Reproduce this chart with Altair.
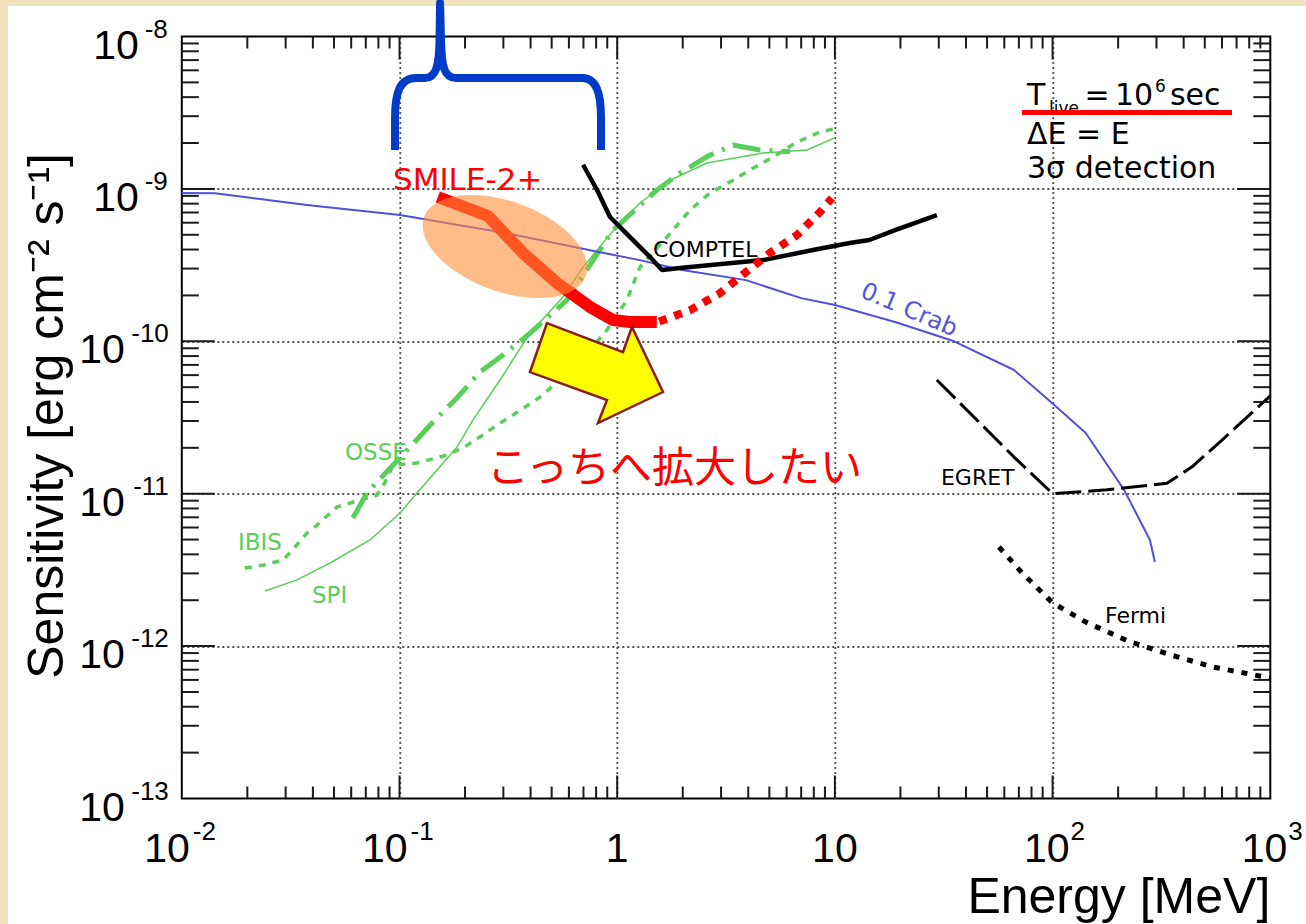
import altair as alt
import pandas as pd

# ---------------- data (Energy [MeV], Sensitivity [erg cm^-2 s^-1]) ----------------
crab_E = [0.01, 0.0142, 0.0376, 0.1005, 0.305, 0.742, 1.27, 1.99, 3.9, 7.0, 10.0, 18.9,
          35.3, 66.5, 99.4, 142, 213, 280, 295]
crab_S = [9.4e-10, 9.35e-10, 7.84e-10, 6.74e-10, 5.14e-10, 3.97e-10, 3.41e-10, 2.94e-10,
          2.52e-10, 1.92e-10, 1.73e-10, 1.34e-10, 1.0e-10, 6.48e-11, 3.94e-11, 2.50e-11,
          1.06e-11, 4.97e-12, 3.56e-12]

smile_E = [0.150, 0.255, 0.369, 0.529, 0.750, 0.956, 1.145, 1.52]
smile_S = [8.85e-10, 6.64e-10, 3.80e-10, 2.41e-10, 1.68e-10, 1.38e-10, 1.34e-10, 1.34e-10]
smile_ext_E = [1.56, 2.16, 2.97, 3.86, 5.03, 6.70, 8.54, 9.70]
smile_ext_S = [1.35e-10, 1.60e-10, 2.07e-10, 2.81e-10, 3.80e-10, 4.98e-10, 7.05e-10, 8.71e-10]

comptel_E = [0.697, 0.808, 0.927, 1.145, 1.415, 1.606, 1.94, 4.68, 7.93, 11.7, 14.4, 18.9, 29.4]
comptel_S = [1.44e-9, 9.84e-10, 6.54e-10, 4.83e-10, 3.57e-10, 2.94e-10, 3.03e-10, 3.41e-10,
             3.97e-10, 4.42e-10, 4.62e-10, 5.37e-10, 6.74e-10]

egret_E = [29.4, 66.5, 100, 178, 335, 437, 600, 1000]
egret_S = [5.57e-11, 1.74e-11, 1.0e-11, 1.06e-11, 1.17e-11, 1.50e-11, 2.25e-11, 4.38e-11]

fermi_E = [56.7, 72.4, 100, 142, 222, 350, 546, 1000]
fermi_S = [4.47e-12, 3.02e-12, 1.92e-12, 1.44e-12, 1.08e-12, 8.74e-13, 7.29e-13, 6.17e-13]

spi_E = [0.0241, 0.0338, 0.0480, 0.0732, 0.1005, 0.1203, 0.1487, 0.1836, 0.2176, 0.2894,
         0.3976, 0.5636, 0.697, 0.956, 1.272, 1.748, 2.585, 4.68, 7.44, 10.0]
spi_S = [2.30e-12, 2.72e-12, 3.51e-12, 4.97e-12, 7.47e-12, 1.01e-11, 1.43e-11, 2.02e-11,
         3.05e-11, 5.57e-11, 1.13e-10, 1.95e-10, 3.07e-10, 5.29e-10, 8.08e-10, 1.14e-9,
         1.48e-9, 1.72e-9, 1.80e-9, 2.16e-9]

ibis_E = [0.0195, 0.0236, 0.0292, 0.0331, 0.0376, 0.0418, 0.0516, 0.0659, 0.0788, 0.0858,
          0.0934, 0.120, 0.165, 0.196, 0.242, 0.280, 0.332, 0.442, 0.564, 0.750, 0.898,
          1.109, 1.272, 1.693, 2.16, 2.67, 3.40, 4.07, 5.20, 6.70, 8.54, 9.80]
ibis_S = [3.25e-12, 3.40e-12, 3.67e-12, 4.47e-12, 5.52e-12, 6.23e-12, 8.18e-12, 9.09e-12,
          9.80e-12, 1.19e-11, 1.54e-11, 1.59e-11, 1.79e-11, 2.00e-11, 2.43e-11, 2.82e-11,
          3.28e-11, 4.31e-11, 5.83e-11, 8.77e-11, 1.19e-10, 1.87e-10, 3.07e-10, 4.83e-10,
          7.27e-10, 9.40e-10, 1.14e-9, 1.33e-9, 1.62e-9, 2.03e-9, 2.36e-9, 2.47e-9]

osse_E = [0.0611, 0.0709, 0.0904, 0.1117, 0.1456, 0.1836, 0.2344, 0.2988, 0.3976, 0.588,
          0.956, 1.523, 1.943, 2.61, 3.40, 4.53, 6.22]
osse_S = [6.93e-12, 1.01e-11, 1.47e-11, 2.02e-11, 3.05e-11, 4.25e-11, 6.29e-11, 8.13e-11,
          1.13e-10, 1.87e-10, 5.37e-10, 9.84e-10, 1.27e-9, 1.64e-9, 1.94e-9, 1.80e-9, 1.75e-9]

# tick labels
x_neg_ticks = [0.01, 0.1]
x_neg_exp = ["-2", "-1"]
x_pos_ticks = [100, 1000]
x_pos_exp = ["2", "3"]
x_plain_ticks = [1, 10]
x_plain_text = ["1", "10"]
y1_ticks = [1e-8, 1e-9]
y1_exp = ["-8", "-9"]
y2_ticks = [1e-10, 1e-11, 1e-12, 1e-13]
y2_exp = ["-10", "-11", "-12", "-13"]
x_major = [0.1, 1, 10, 100]
y_major = [1e-12, 1e-11, 1e-10, 1e-9]
x_minor = [k * 10.0 ** e for e in range(-2, 3) for k in range(2, 10)]
y_minor = [k * 10.0 ** e for e in range(-13, -8) for k in range(2, 10)]

# annotation anchors (data coordinates)
ell_pos = (0.305, 4.19e-10)
arrow_pos = (0.799, 6.19e-11)
brace_pos = (0.2835, 5.34e-9)
underline = (72.4, 667, 3.17e-9)

W, H = 1088.5, 762
PAD = {"left": 181.8, "top": 36.5, "right": 35.7, "bottom": 125.5}

xs = alt.Scale(type="log", domain=[0.01, 1000], nice=False)
ys = alt.Scale(type="log", domain=[1e-13, 1e-8], nice=False)
GRID = dict(grid=True, labels=False, ticks=False, domain=False, title=None,
            gridColor="#505050", gridDash=[2, 3], gridWidth=1.8, gridOpacity=1)
xax = alt.Axis(values=x_major, **GRID)
yax = alt.Axis(values=y_major, **GRID)


def X():
    return alt.X("E:Q", scale=xs, axis=xax)


def Y():
    return alt.Y("S:Q", scale=ys, axis=yax)


def df(E, S, **extra):
    d = {"E": E, "S": S}
    d.update(extra)
    return pd.DataFrame(d)


def line(E, S, color, width, dash=None):
    kw = dict(color=color, strokeWidth=width, strokeCap="butt", strokeJoin="round")
    if dash:
        kw["strokeDash"] = dash
    return alt.Chart(df(E, S)).mark_line(**kw).encode(x=X(), y=Y())


def label(texts, Es, Ss, **kw):
    kw.setdefault("baseline", "alphabetic")
    kw.setdefault("align", "left")
    return alt.Chart(df(Es, Ss, t=texts)).mark_text(**kw).encode(x=X(), y=Y(), text="t:N")


def px_rect(x, x2, y, y2, color):
    return alt.Chart(pd.DataFrame({"a": [0]})).mark_rect(color=color).encode(
        x=alt.value(x), x2=alt.value(x2), y=alt.value(y), y2=alt.value(y2))


GREEN = "#58cf58"
layers = []
# beige slide border
layers.append(px_rect(-181.8, 1124.2, -36.5, -30.5, "#f0e2be"))
layers.append(px_rect(-181.8, -173.8, -36.5, 887.5, "#f0e2be"))

# green curves
layers.append(line(spi_E, spi_S, GREEN, 1.5))
layers.append(line(ibis_E, ibis_S, GREEN, 3.5, [7, 7]))
layers.append(line(osse_E, osse_S, GREEN, 5, [28, 9, 3, 9]))
# crab
layers.append(line(crab_E, crab_S, "#5050dd", 2))
# black instruments
layers.append(line(comptel_E, comptel_S, "black", 4.5))
layers.append(line(egret_E, egret_S, "black", 3, [26, 7]))
layers.append(line(fermi_E, fermi_S, "black", 5, [6, 8]))
# SMILE-2+
layers.append(line(smile_ext_E, smile_ext_S, "#ff0000", 8, [8, 8]))
layers.append(line(smile_E, smile_S, "#ff0000", 12))

# ellipse
ELL = ("M -1 0 C -1 -0.2889 -0.5523 -0.523 0 -0.523 C 0.5523 -0.523 1 -0.2889 1 0 "
       "C 1 0.2889 0.5523 0.523 0 0.523 C -0.5523 0.523 -1 0.2889 -1 0 Z")
layers.append(alt.Chart(df([ell_pos[0]], [ell_pos[1]])).mark_point(
    shape=ELL, size=29584, filled=True, color="#ff8e39", opacity=0.6, angle=20,
    strokeWidth=0).encode(x=X(), y=Y()))

# yellow arrow
ARROW = ("M -0.700 -0.714 L 0.386 -0.300 L 0.514 -0.657 L 0.957 0.271 L 0.029 0.714 "
         "L 0.157 0.386 L -0.943 -0.014 Z")
layers.append(alt.Chart(df([arrow_pos[0]], [arrow_pos[1]])).mark_point(
    shape=ARROW, size=19600, filled=True, fill="#ffff00", stroke="#8b1c1c",
    strokeWidth=2.5, opacity=1, strokeJoin="miter").encode(x=X(), y=Y()))

# inner ticks
TK = dict(color="#1a1a1a", strokeWidth=2)
for vals, ln in ((x_minor, 12), (x_major, 23)):
    layers.append(alt.Chart(df(vals, [1e-13] * len(vals))).mark_rule(y2Offset=-ln, **TK)
                  .encode(x=X(), y=Y(), y2=alt.Y2("S")))
    layers.append(alt.Chart(df(vals, [1e-8] * len(vals))).mark_rule(y2Offset=ln, **TK)
                  .encode(x=X(), y=Y(), y2=alt.Y2("S")))
for vals, ln in ((y_minor, 17), (y_major, 33)):
    layers.append(alt.Chart(df([0.01] * len(vals), vals)).mark_rule(x2Offset=ln, **TK)
                  .encode(x=X(), x2=alt.X2("E"), y=Y()))
    layers.append(alt.Chart(df([1000] * len(vals), vals)).mark_rule(x2Offset=-ln, **TK)
                  .encode(x=X(), x2=alt.X2("E"), y=Y()))

# tick labels
AF = "Liberation Sans"
BS, ES = 41, 26
layers.append(label(["10"] * 2, x_neg_ticks, [1e-13] * 2, align="right", dx=8, dy=63.5,
                    font=AF, fontSize=BS, color="black"))
layers.append(label(x_neg_exp, x_neg_ticks, [1e-13] * 2, align="left", dx=11, dy=41.5,
                    font=AF, fontSize=ES, color="black"))
layers.append(label(["10"] * 2, x_pos_ticks, [1e-13] * 2, align="right", dx=17, dy=63.5,
                    font=AF, fontSize=BS, color="black"))
layers.append(label(x_pos_exp, x_pos_ticks, [1e-13] * 2, align="left", dx=18, dy=41.5,
                    font=AF, fontSize=ES, color="black"))
layers.append(label(x_plain_text, x_plain_ticks, [1e-13] * 2, align="center", dy=63.5,
                    font=AF, fontSize=BS, color="black"))
layers.append(label(["10"] * 2, [0.01] * 2, y1_ticks, align="right", dx=-43, dy=22,
                    font=AF, fontSize=BS, color="black"))
layers.append(label(y1_exp, [0.01] * 2, y1_ticks, align="right", dx=-14, dy=1,
                    font=AF, fontSize=ES, color="black"))
layers.append(label(["10"] * 4, [0.01] * 4, y2_ticks, align="right", dx=-57, dy=22,
                    font=AF, fontSize=BS, color="black"))
layers.append(label(y2_exp, [0.01] * 4, y2_ticks, align="right", dx=-13, dy=1,
                    font=AF, fontSize=ES, color="black"))

# axis titles
layers.append(label(["Energy [MeV]"], [1000], [1e-13], align="right", dy=114.5,
                    font=AF, fontSize=50, color="black"))
layers.append(label(["Sensitivity [erg cm\u207b\u00b2 s\u207b\u00b9]"], [0.002846], [3.24e-11],
                    align="center", angle=270, font=AF, fontSize=50, color="black"))

# curve labels
LF = "DejaVu Sans"
layers.append(label(["SMILE-2+"], [0.0934], [9.84e-10], font=LF, fontSize=31, color="#ff0000"))
layers.append(label(["COMPTEL"], [1.46], [3.57e-10], font=LF, fontSize=22, color="black"))
layers.append(label(["EGRET"], [30.7], [1.14e-11], font=LF, fontSize=22, color="black"))
layers.append(label(["Fermi"], [174], [1.42e-12], font=LF, fontSize=22, color="black"))
layers.append(label(["0.1 Crab"], [21.9], [1.60e-10], font=LF, fontSize=24, color="#5555dd",
                    angle=23, align="center", baseline="middle"))
layers.append(label(["OSSE"], [0.0562], [1.66e-11], font=LF, fontSize=23, color=GREEN))
layers.append(label(["IBIS"], [0.0181], [4.27e-12], font=LF, fontSize=23, color=GREEN))
layers.append(label(["SPI"], [0.0396], [1.92e-12], font=LF, fontSize=23, color=GREEN))
layers.append(label(["こっちへ拡大したい"], [0.252], [1.19e-11], font="Noto Sans CJK JP",
                    fontSize=42, color="#ff0000"))

# condition box text
layers.append(label(["T"], [76.3], [3.55e-9], font=LF, fontSize=30, color="black"))
layers.append(label(["live"], [96.3], [3.10e-9], font=LF, fontSize=17, color="black"))
layers.append(label(["="], [160], [3.55e-9], font=LF, fontSize=30, color="black", align="center"))
layers.append(label(["10"], [193.5], [3.55e-9], font=LF, fontSize=30, color="black"))
layers.append(label(["6"], [295.4], [4.32e-9], font=LF, fontSize=17, color="black"))
layers.append(label(["sec"], [346], [3.55e-9], font=LF, fontSize=30, color="black"))
layers.append(label(["\u0394E = E"], [76.3], [1.97e-9], font=LF, fontSize=30, color="black"))
layers.append(label(["3\u03c3 detection"], [76.3], [1.18e-9], font=LF, fontSize=30, color="black"))

# red underline
layers.append(alt.Chart(pd.DataFrame({"E": [underline[0]], "E2": [underline[1]],
                                      "S": [underline[2]]}))
              .mark_rule(color="#ff0000", strokeWidth=5)
              .encode(x=X(), x2=alt.X2("E2"), y=Y()))

# blue brace
BRACE = ("M -0.995 0.696 L -0.995 0.386 C -0.995 0.135 -0.947 0 -0.792 0 L -0.705 0 "
         "C -0.599 0 -0.570 -0.116 -0.565 -0.367 L -0.560 -0.725 L -0.551 -0.367 "
         "C -0.546 -0.116 -0.522 0 -0.406 0 L 0.812 0 C 0.947 0 0.995 0.135 0.995 0.386 "
         "L 0.995 0.696")
layers.append(alt.Chart(df([brace_pos[0]], [brace_pos[1]])).mark_point(
    shape=BRACE, size=42849, filled=False, color="#003cc8", strokeWidth=8, opacity=1,
    strokeJoin="round", strokeCap="butt").encode(x=X(), y=Y()))

chart = alt.layer(*layers).properties(
    width=W, height=H, padding=PAD, autosize=alt.AutoSizeParams(type="none"),
    background="white",
).configure_view(stroke="black", strokeWidth=2, fill="white")

chart.save("out.html", embed_options={"renderer": "svg", "actions": False})
